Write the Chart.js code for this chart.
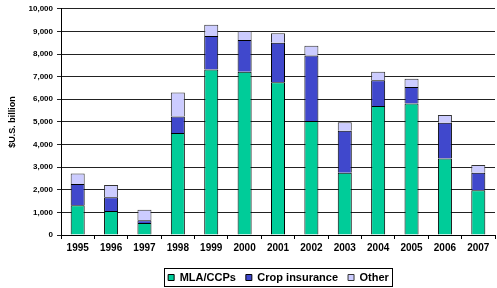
<!DOCTYPE html>
<html>
<head>
<meta charset="utf-8">
<script src="https://cdn.jsdelivr.net/npm/chart.js@4"></script>
<style>
  html, body { margin: 0; padding: 0; background: #fff; }
  #wrap { width: 497px; height: 288px; }
</style>
</head>
<body>
<div id="wrap"><canvas id="apoyoChart" width="497" height="288"></canvas></div>
<script>
// Datos
const years = ['1995', '1996', '1997', '1998', '1999', '2000', '2001', '2002', '2003', '2004', '2005', '2006', '2007'];
const mlaCcps = [1310, 1060, 525, 4510, 7320, 7220, 6750, 5040, 2750, 5700, 5810, 3380, 1980];
const cropIns = [950, 610, 130, 730, 1480, 1400, 1750, 2890, 1860, 1140, 730, 1580, 770];
const other = [460, 540, 465, 1060, 490, 400, 420, 440, 380, 380, 370, 340, 340];

const FONT = "'Liberation Sans', Arial, sans-serif";
const LEG_DX = 31;  // leyenda centrada bajo el área del gráfico
const LEG_DY = 5;

// mueve la leyenda y dibuja la caja alrededor
const legendBox = {
  id: 'legendBox',
  afterLayout(chart) {
    const l = chart.legend;
    l.left += LEG_DX; l.right += LEG_DX;
    l.top += LEG_DY; l.bottom += LEG_DY;
  },
  afterDraw(chart) {
    const hb = chart.legend.legendHitBoxes;
    if (!hb.length) return;
    const x0 = Math.min(...hb.map(h => h.left)) - 4;
    const x1 = Math.max(...hb.map(h => h.left + h.width)) + 3;
    const y0 = hb[0].top - 4;
    const y1 = hb[0].top + hb[0].height + 3;
    const c = chart.ctx;
    c.save();
    c.strokeStyle = '#000';
    c.lineWidth = 1;
    c.strokeRect(Math.round(x0) + 0.5, Math.round(y0) + 0.5, Math.round(x1 - x0), Math.round(y1 - y0));
    c.restore();
  }
};

const ctx = document.getElementById('apoyoChart').getContext('2d');
const apoyoChart = new Chart(ctx, {
  type: 'bar',
  data: {
    labels: years,
    datasets: [{
      label: 'MLA/CCPs',
      data: mlaCcps,
      backgroundColor: '#00CC99',
      borderColor: '#000',
      borderWidth: 1
    }, {
      label: 'Crop insurance',
      data: cropIns,
      backgroundColor: '#4048CC',
      borderColor: '#000',
      borderWidth: 1
    }, {
      label: 'Other',
      data: other,
      backgroundColor: '#CCCCFF',
      borderColor: '#333',
      borderWidth: 1
    }]
  },
  plugins: [legendBox],
  options: {
    responsive: false,
    animation: false,
    layout: { padding: { top: 6, right: 2, left: 0, bottom: 0 } },
    datasets: { bar: { categoryPercentage: 1, barPercentage: 0.42 } },
    plugins: {
      tooltip: { enabled: false },
      legend: {
        position: 'bottom',
        labels: {
          color: '#000',
          font: { family: FONT, size: 11, weight: 'bold' },
          boxWidth: 6,
          boxHeight: 6,
          padding: 10,
          useBorderRadius: false
        }
      }
    },
    scales: {
      x: {
        stacked: true,
        border: { color: '#000', width: 1 },
        grid: { offset: true, drawOnChartArea: false, color: '#000', tickLength: 4 },
        ticks: {
          color: '#000',
          padding: 3,
          maxRotation: 0,
          font: { family: FONT, size: 10, weight: 'bold' }
        }
      },
      y: {
        stacked: true,
        min: 0,
        max: 10000,
        border: { color: '#000', width: 1 },
        grid: { color: '#222', tickLength: 4 },
        afterFit: function(axis) { axis.width = 61; },
        title: {
          display: true,
          text: '$U.S. billion',
          color: '#000',
          padding: { top: 7, bottom: 0 },
          font: { family: FONT, size: 9, weight: 'bold' }
        },
        ticks: {
          stepSize: 1000,
          color: '#000',
          padding: 4,
          font: { family: FONT, size: 8, weight: 'bold' },
          callback: function(value) { return value.toLocaleString('en-US'); }
        }
      }
    }
  }
});
</script>
</body>
</html>
